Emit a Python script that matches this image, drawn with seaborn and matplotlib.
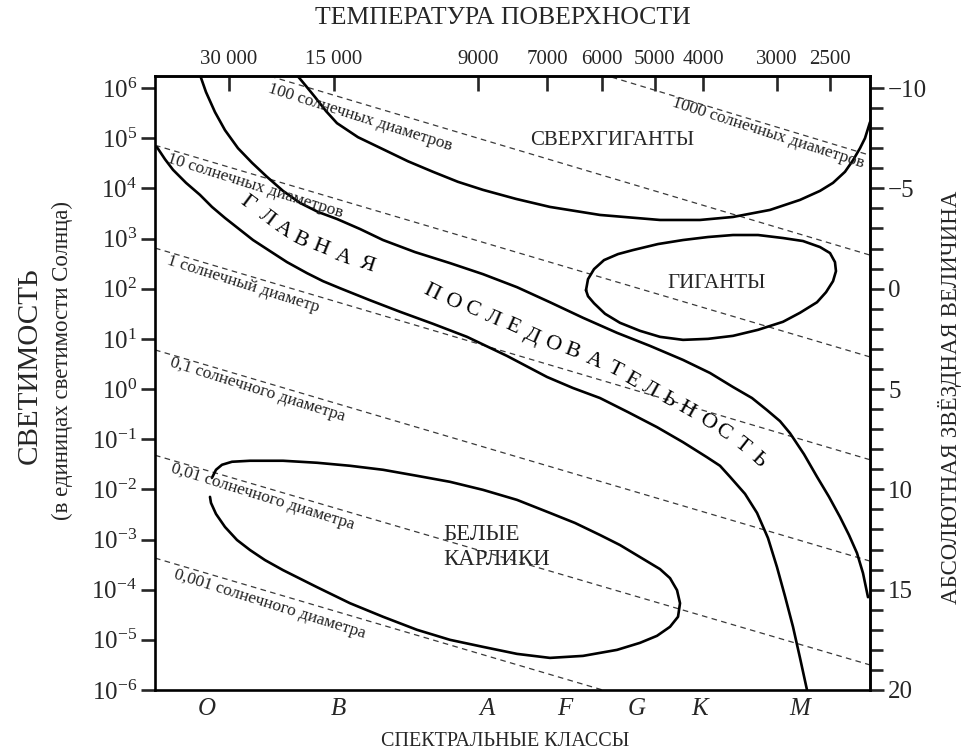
import numpy as np
import pandas as pd
import matplotlib
matplotlib.use("Agg")
import matplotlib.pyplot as plt
import seaborn as sns
from matplotlib.ticker import MultipleLocator

sns.set_theme(style="white")
plt.rcParams['font.family'] = ['Liberation Serif', 'DejaVu Serif']
plt.rcParams['mathtext.fontset'] = 'custom'
plt.rcParams['mathtext.rm'] = 'Liberation Serif'
plt.rcParams['mathtext.it'] = 'Liberation Serif:italic'
plt.rcParams['axes.unicode_minus'] = True

# ---------------- data ----------------
temp_labels = ["30 000", "15 000", "9000", "7000", "6000", "5000", "4000", "3000", "2500"]
temp_pos = [10.35, 25.03, 45.17, 54.83, 62.52, 69.93, 76.64, 86.99, 94.41]
spec_classes = ["O", "B", "A", "F", "G", "K", "M"]
spec_pos = [7.27, 25.59, 46.43, 57.34, 67.41, 76.22, 90.21]
lum_exp = list(range(-6, 7))
mag_ticks = [-10, -5, 0, 5, 10, 15, 20]

# supergiants (lower boundary); x in spectral-class units (0..100), y = log10 L
sg_x = [19.6, 21.12, 22.38, 23.92, 25.45, 28.39, 31.89, 35.38, 38.88, 42.38, 45.87, 50.49, 55.24, 62.24,
        70.63, 76.22, 80.84, 86.01, 90.21, 93.01, 94.83, 96.50, 97.62, 98.60, 99.30, 100.0]
sg_logL = [6.30, 6.04, 5.82, 5.54, 5.30, 5.02, 4.78, 4.54, 4.33, 4.13, 3.97, 3.79, 3.63, 3.47,
           3.37, 3.37, 3.43, 3.57, 3.77, 3.95, 4.11, 4.33, 4.56, 4.80, 5.00, 5.32]

# main sequence, upper boundary
msu_x = [6.15, 7.13, 8.39, 9.79, 11.61, 13.57, 15.66, 17.90, 20.28, 22.80, 25.45, 28.67, 31.89, 36.36,
         41.26, 45.87, 50.63, 55.24, 59.86, 64.62, 69.23, 73.85, 77.62, 80.84, 83.50, 85.59, 87.41,
         88.81, 90.77, 92.59, 94.27, 95.80, 97.06, 98.18, 99.02, 99.72]
msu_logL = [6.32, 5.92, 5.52, 5.16, 4.80, 4.51, 4.23, 3.95, 3.71, 3.53, 3.39, 3.19, 2.97, 2.73,
            2.51, 2.29, 2.03, 1.73, 1.42, 1.12, 0.86, 0.58, 0.32, 0.04, -0.18, -0.42, -0.64,
            -0.88, -1.30, -1.75, -2.15, -2.55, -2.91, -3.27, -3.67, -4.15]

# main sequence, lower boundary
msl_x = [0.28, 1.40, 2.52, 4.34, 6.29, 7.97, 9.79, 11.75, 13.71, 16.08, 18.46, 21.26, 23.50, 25.87,
         30.07, 34.27, 38.88, 43.64, 49.23, 54.83, 58.46, 62.24, 66.15, 70.21, 73.85, 77.20, 79.02,
         80.42, 82.52, 84.20, 85.73, 86.99, 88.11, 89.23, 90.21, 91.19, 91.33]
msl_logL = [4.82, 4.58, 4.37, 4.11, 3.87, 3.63, 3.41, 3.19, 2.97, 2.75, 2.53, 2.31, 2.15, 2.01,
            1.77, 1.54, 1.30, 1.04, 0.66, 0.24, 0.02, -0.18, -0.46, -0.76, -1.06, -1.36, -1.53,
            -1.75, -2.09, -2.47, -2.97, -3.55, -4.13, -4.74, -5.36, -6.00, -6.20]

# giants (closed contour)
gi_x = [60.28, 60.56, 61.40, 62.80, 64.76, 66.85, 70.35, 73.85, 77.34, 80.84, 84.34, 87.83, 90.63,
        93.01, 94.41, 95.10, 95.24, 94.83, 93.85, 92.59, 90.21, 87.83, 84.34, 80.84, 77.34, 73.85,
        70.63, 67.83, 65.03, 62.94, 61.40, 60.56, 60.28]
gi_logL = [1.97, 2.19, 2.39, 2.57, 2.69, 2.77, 2.89, 2.97, 3.03, 3.07, 3.07, 3.01, 2.95,
           2.83, 2.71, 2.53, 2.35, 2.15, 1.93, 1.73, 1.52, 1.34, 1.18, 1.06, 1.00, 0.98,
           1.04, 1.16, 1.32, 1.50, 1.71, 1.85, 1.97]

# white dwarfs (contour, open at the far left)
wd_x = [7.97, 8.53, 9.37, 10.77, 13.29, 17.90, 22.66, 27.27, 31.89, 36.64, 41.26, 45.87, 50.63, 55.24,
        58.74, 62.24, 65.03, 67.83, 70.63, 72.03, 73.01, 73.43, 73.15, 72.03, 70.21, 67.83, 64.62,
        59.86, 55.24, 50.63, 45.87, 41.26, 36.64, 31.89, 27.27, 22.66, 17.90, 15.38, 13.29, 11.47,
        9.79, 8.53, 7.83, 7.69]
wd_logL = [-1.77, -1.61, -1.51, -1.45, -1.43, -1.43, -1.47, -1.53, -1.61, -1.73, -1.85, -2.01, -2.21,
           -2.47, -2.67, -2.91, -3.11, -3.35, -3.59, -3.77, -4.01, -4.27, -4.54, -4.74, -4.92, -5.06,
           -5.20, -5.32, -5.36, -5.28, -5.14, -5.00, -4.80, -4.54, -4.27, -3.95, -3.61, -3.41, -3.21,
           -3.01, -2.75, -2.49, -2.27, -2.15]

# constant-radius lines: log10 L at the left (x=0) and right (x=100) edges
radius_labels = ["1000 солнечных диаметров", "100 солнечных диаметров", "10 солнечных диаметров",
                 "1 солнечный диаметр", "0,1 солнечного диаметра", "0,01 солнечного диаметра",
                 "0,001 солнечного диаметра"]
radius_left = [8.97, 6.92, 4.86, 2.81, 0.78, -1.32, -3.37]
radius_right = [4.66, 2.67, 0.64, -1.41, -3.43, -5.50, -7.57]
radius_label_x = [85.7, 28.7, 14.0, 12.3, 14.4, 15.0, 16.1]
radius_label_logL = [5.10, 5.42, 4.05, 2.09, -0.02, -2.15, -4.29]

# main sequence lettering
ms_word1 = "ГЛАВНАЯ"
ms_word1_x = [12.87, 15.66, 17.90, 20.28, 23.08, 26.29, 29.65]
ms_word1_logL = [3.71, 3.41, 3.17, 2.97, 2.81, 2.63, 2.47]
ms_word2 = "ПОСЛЕДОВАТЕЛЬНОСТЬ"
ms_word2_x = [38.74, 41.54, 44.34, 47.13, 49.93, 52.73, 55.52, 58.32, 61.40, 64.34, 66.71, 69.23,
              71.75, 74.41, 77.20, 79.44, 82.10, 84.34]
ms_word2_logL = [1.93, 1.73, 1.58, 1.40, 1.24, 1.04, 0.88, 0.74, 0.56, 0.38, 0.18, -0.02,
                 -0.22, -0.42, -0.66, -0.86, -1.12, -1.41]

# ---------------- figure ----------------
W, H = 972, 755
fig = plt.figure(figsize=(W / 100, H / 100), dpi=100)
ax = fig.add_axes([155 / W, 1 - 690 / H, (870 - 155) / W, (690 - 76) / H])
ax.set_xlim(0, 100)
ymax = 6.24
ax.set_ylim(-6, ymax)

lw = 1.9
def curve(xs, ys):
    df = pd.DataFrame({"x": xs, "y": ys})
    sns.lineplot(data=df, x="x", y="y", sort=False, estimator=None, color="black", lw=lw, ax=ax)

for l, r in zip(radius_left, radius_right):
    df = pd.DataFrame({"x": [0, 100], "y": [l, r]})
    sns.lineplot(data=df, x="x", y="y", sort=False, estimator=None, color="#3a3a3a", lw=0.9,
                 linestyle=(0, (4.5, 3.5)), ax=ax)

curve(sg_x, sg_logL)
curve(msu_x, msu_logL)
curve(msl_x, msl_logL)
curve(gi_x, gi_logL)
curve(wd_x, wd_logL)

ax.set_xlabel("")
ax.set_ylabel("")

def disp_angle(x0, y0, x1, y1):
    p0 = ax.transData.transform((x0, y0))
    p1 = ax.transData.transform((x1, y1))
    return np.degrees(np.arctan2(p1[1] - p0[1], p1[0] - p0[0]))

for lab, l, r, tx, ty in zip(radius_labels, radius_left, radius_right, radius_label_x, radius_label_logL):
    ang = disp_angle(0, l, 100, r) - 1.0
    ax.text(tx, ty, lab, rotation=ang, rotation_mode="anchor", ha="center", va="center",
            fontsize=12.5, color="#222222")

def letters(word, xs, ys):
    n = len(word)
    for i, ch in enumerate(word):
        a = max(i - 1, 0)
        b = min(i + 1, n - 1)
        ang = disp_angle(xs[a], ys[a], xs[b], ys[b])
        ax.text(xs[i], ys[i], ch, rotation=ang, rotation_mode="anchor", ha="center", va="center",
                fontsize=16, color="black")

letters(ms_word1, ms_word1_x, ms_word1_logL)
letters(ms_word2, ms_word2_x, ms_word2_logL)

ax.text(63.9, 4.96, "СВЕРХГИГАНТЫ", ha="center", va="center", fontsize=15)
ax.text(78.5, 2.11, "ГИГАНТЫ", ha="center", va="center", fontsize=15)
ax.text(40.3, -3.15, "БЕЛЫЕ\nКАРЛИКИ", ha="left", va="center", fontsize=16.5, linespacing=1.3)

# left axis: luminosity
ax.set_yticks(lum_exp)
ax.set_yticklabels([r"$10^{%d}$" % e for e in lum_exp])
ax.tick_params(axis="y", which="major", direction="out", length=10, width=1.9, labelsize=18, pad=3,
               left=True, right=False)

# bottom axis: spectral classes
ax.set_xticks(spec_pos)
ax.set_xticklabels(spec_classes, fontstyle="italic")
ax.tick_params(axis="x", which="major", length=0, labelsize=18, pad=6, bottom=True, top=False)

for s in ax.spines.values():
    s.set_linewidth(1.9)
    s.set_color("black")
    s.set_visible(True)

# top axis: temperature
sec_x = ax.secondary_xaxis("top")
sec_x.set_xticks(temp_pos)
sec_x.set_xticklabels(temp_labels)
sec_x.tick_params(direction="in", length=11, width=1.9, labelsize=15, pad=5)
sec_x.spines["top"].set_linewidth(1.9)

# right axis: absolute magnitude
sec_y = ax.secondary_yaxis("right", functions=(lambda l: 5 - 2.5 * l, lambda m: (5 - m) / 2.5))
sec_y.set_yticks(mag_ticks)
sec_y.set_yticklabels([("\u2212%d" % -m) if m < 0 else "%d" % m for m in mag_ticks])
sec_y.yaxis.set_minor_locator(MultipleLocator(1))
sec_y.tick_params(which="major", direction="out", length=10, width=1.9, labelsize=18, pad=3)
sec_y.tick_params(which="minor", direction="out", length=9, width=1.9)
sec_y.spines["right"].set_linewidth(1.9)

# axis titles
fig.text(503 / W, 1 - 18 / H, "ТЕМПЕРАТУРА ПОВЕРХНОСТИ", ha="center", va="center", fontsize=18.5)
fig.text(505 / W, 1 - 742 / H, "СПЕКТРАЛЬНЫЕ КЛАССЫ", ha="center", va="center", fontsize=14.5)
fig.text(30 / W, 1 - 366 / H, "СВЕТИМОСТЬ", ha="center", va="center", rotation=90, fontsize=21)
fig.text(62 / W, 1 - 361 / H, "(в единицах светимости Солнца)", ha="center", va="center",
         rotation=90, fontsize=16.5)
fig.text(950 / W, 1 - 397 / H, "АБСОЛЮТНАЯ ЗВЁЗДНАЯ ВЕЛИЧИНА", ha="center", va="center",
         rotation=90, fontsize=16.5)

fig.savefig("out.png", dpi=100, facecolor="white")
